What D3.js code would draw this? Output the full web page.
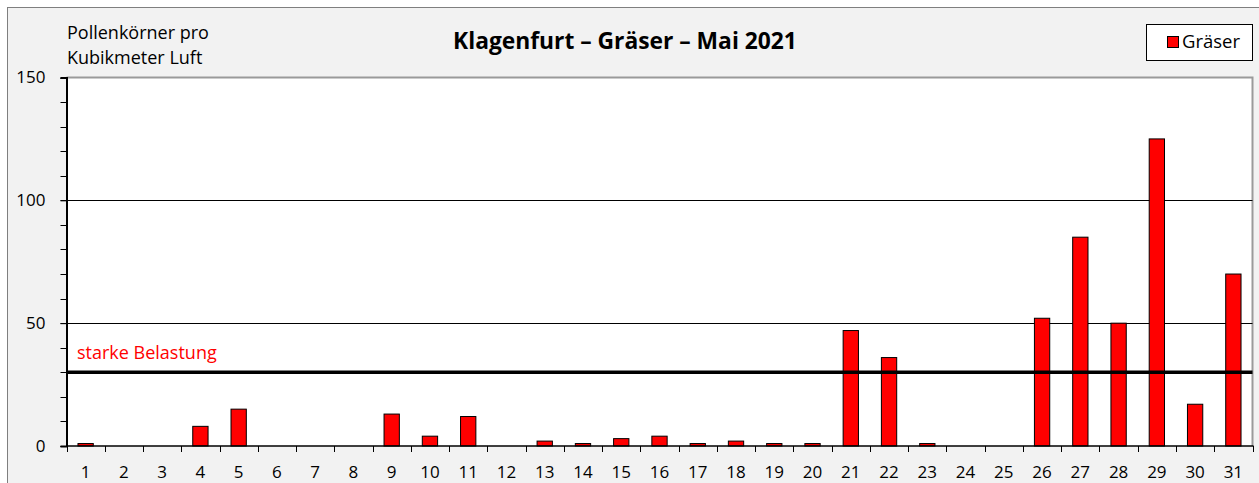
<!DOCTYPE html>
<html>
<head>
<meta charset="utf-8">
<script src="https://cdn.jsdelivr.net/npm/d3@7"></script>
<style>
  body { margin: 0; background: #fff; }
  svg { display: block; font-family: "Open Sans", sans-serif; }
  .axis path, .axis line { stroke: #000; }
  .axis text { font-size: 17px; fill: #000; font-family: "Open Sans", sans-serif; }
</style>
</head>
<body>
<div id="container"></div>
<script>
const width = 1259;
const height = 483;

// data
const days = d3.range(1, 32).map(String);
const graeser = [1, 0, 0, 8, 15, 0, 0, 0, 13, 4, 12, 0, 2, 1, 3, 4, 1, 2, 1, 1,
                 47, 36, 1, 0, 0, 52, 85, 50, 125, 17, 70];
const yTicks = [0, 50, 100, 150];
const yMinor = d3.range(0, 151, 10);
const threshold = 30;
const thresholdLabel = "starke Belastung";
const title = "Klagenfurt – Gräser – Mai 2021";
const yLabel = ["Pollenkörner pro", "Kubikmeter Luft"];
const seriesName = "Gräser";

const plot = { left: 66.5, right: 1252.5, top: 77.5, bottom: 446 };

const svg = d3.select("div#container")
    .append("svg")
    .attr("width", width)
    .attr("height", height);

// outer frame
svg.append("rect")
    .attr("x", 7.5).attr("y", 7.5)
    .attr("width", width).attr("height", height)
    .attr("fill", "#f2f2f2")
    .attr("stroke", "#7f7f7f")
    .attr("stroke-width", 1);

// plot area
svg.append("rect")
    .attr("x", plot.left).attr("y", plot.top)
    .attr("width", plot.right - plot.left)
    .attr("height", plot.bottom - plot.top)
    .attr("fill", "#fff");

svg.append("path")
    .attr("d", "M" + plot.left + "," + plot.top + "H" + plot.right + "V" + plot.bottom)
    .attr("fill", "none")
    .attr("stroke", "#9a9a9a")
    .attr("stroke-width", 2);

const x = d3.scaleBand()
    .domain(days)
    .range([plot.left, plot.right])
    .paddingInner(0.6)
    .paddingOuter(0.3);

const xEdge = d3.scaleLinear()
    .domain([0, days.length])
    .range([plot.left, plot.right]);

const y = d3.scaleLinear()
    .domain([0, 150])
    .range([plot.bottom, plot.top]);

// gridlines
svg.append("g")
    .selectAll("line")
    .data(yTicks.filter(function(d) { return d > 0 && d < 150; }))
    .enter()
    .append("line")
    .attr("x1", plot.left).attr("x2", plot.right)
    .attr("y1", function(d) { return Math.round(y(d)) + 0.5; })
    .attr("y2", function(d) { return Math.round(y(d)) + 0.5; })
    .attr("stroke", "#000")
    .attr("stroke-width", 1);

// bars
svg.append("g")
    .selectAll("rect")
    .data(graeser)
    .enter()
    .append("rect")
    .attr("x", function(d, i) { return x(days[i]); })
    .attr("y", function(d) { return y(d); })
    .attr("width", x.bandwidth())
    .attr("height", function(d) { return y(0) - y(d); })
    .attr("fill", "#ff0000")
    .attr("stroke", function(d) { return d > 0 ? "#000" : "none"; })
    .attr("stroke-width", 1);

// threshold line
svg.append("line")
    .attr("x1", plot.left).attr("x2", plot.right)
    .attr("y1", y(threshold)).attr("y2", y(threshold))
    .attr("stroke", "#000")
    .attr("stroke-width", 3.5);

svg.append("text")
    .attr("x", 77)
    .attr("y", y(threshold) - 13)
    .attr("fill", "#ff0000")
    .style("font-size", "18px")
    .text(thresholdLabel);

// y axis minor ticks
svg.append("g")
    .selectAll("line")
    .data(yMinor)
    .enter()
    .append("line")
    .attr("x1", plot.left - 6).attr("x2", plot.left)
    .attr("y1", function(d) { return Math.round(y(d)) + 0.5; })
    .attr("y2", function(d) { return Math.round(y(d)) + 0.5; })
    .attr("stroke", "#000");

const yaxis = d3.axisLeft(y).tickValues(yTicks).tickSize(6).tickPadding(15);
svg.append("g")
    .attr("class", "axis")
    .attr("transform", "translate(" + plot.left + ",0)")
    .call(yaxis)
    .call(function(g) { g.select(".domain").attr("stroke-width", 2); });

// x axis
const xaxis = d3.axisBottom(x).tickSize(0).tickPadding(20);
svg.append("g")
    .attr("class", "axis")
    .attr("transform", "translate(0," + plot.bottom + ")")
    .call(xaxis)
    .call(function(g) { g.select(".domain").remove(); });

svg.append("line")
    .attr("x1", plot.left).attr("x2", plot.right + 1)
    .attr("y1", plot.bottom).attr("y2", plot.bottom)
    .attr("stroke", "#000")
    .attr("stroke-width", 1.5);

svg.append("g")
    .selectAll("line")
    .data(d3.range(0, days.length + 1))
    .enter()
    .append("line")
    .attr("x1", function(d) { return Math.round(xEdge(d)) + 0.5; })
    .attr("x2", function(d) { return Math.round(xEdge(d)) + 0.5; })
    .attr("y1", plot.bottom).attr("y2", plot.bottom + 6)
    .attr("stroke", "#000");

// title
svg.append("text")
    .attr("x", 625)
    .attr("y", 49)
    .attr("text-anchor", "middle")
    .style("font-size", "22.8px")
    .style("font-weight", "bold")
    .text(title);

// y label
svg.append("g")
    .selectAll("text")
    .data(yLabel)
    .enter()
    .append("text")
    .attr("x", 67)
    .attr("y", function(d, i) { return 39 + i * 25; })
    .style("font-size", "18px")
    .text(function(d) { return d; });

// legend
const legend = svg.append("g");
legend.append("rect")
    .attr("x", 1146.5).attr("y", 24.5)
    .attr("width", 106).attr("height", 36)
    .attr("fill", "#fff")
    .attr("stroke", "#000");
legend.append("rect")
    .attr("x", 1167.5).attr("y", 36.5)
    .attr("width", 11).attr("height", 11)
    .attr("fill", "#ff0000")
    .attr("stroke", "#000");
legend.append("text")
    .attr("x", 1182)
    .attr("y", 48)
    .style("font-size", "18.5px")
    .text(seriesName);
</script>
</body>
</html>
